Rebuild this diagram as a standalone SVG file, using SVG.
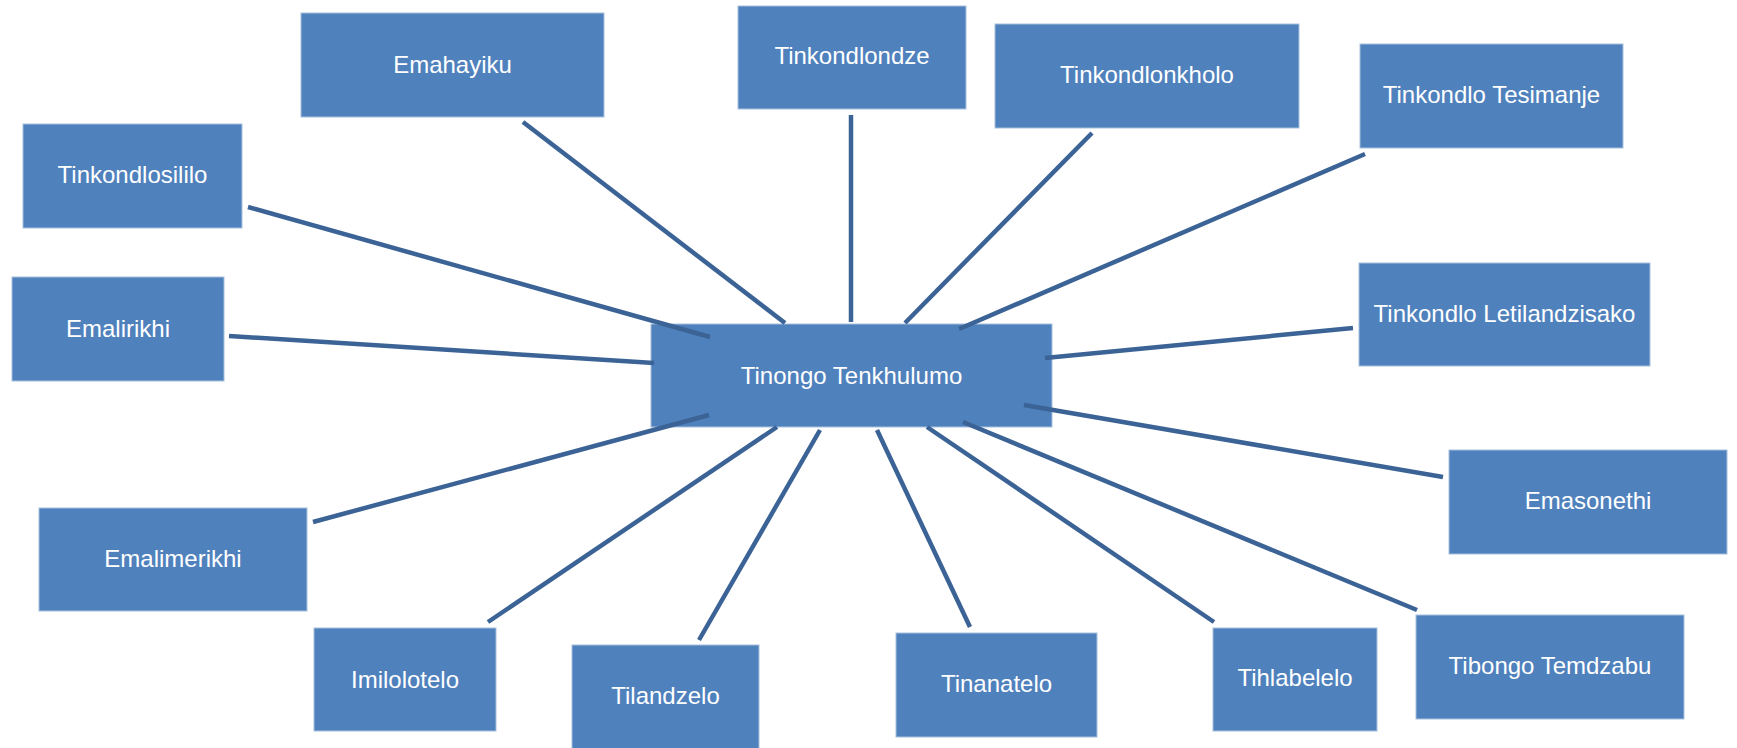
<svg xmlns="http://www.w3.org/2000/svg" width="1737" height="748" viewBox="0 0 1737 748">
<style>
.box{fill:#4f81bd;stroke:#a9c0de;stroke-width:1}
.lbl{font-family:"Liberation Sans",Arial,sans-serif;font-size:24px;fill:#ffffff;text-anchor:middle}
.edge{stroke:#3b6396;stroke-width:4.5;fill:none}
</style>
<rect width="1737" height="748" fill="#ffffff"/>
<g id="center"><rect class="box" x="651" y="324" width="401" height="103"/><text class="lbl" x="851.5" y="384">Tinongo Tenkhulumo</text></g>
<g id="emahayiku"><rect class="box" x="301" y="13" width="303" height="104"/><text class="lbl" x="452.5" y="73">Emahayiku</text></g>
<g id="tinkondlosililo"><rect class="box" x="23" y="124" width="219" height="104"/><text class="lbl" x="132.5" y="183">Tinkondlosililo</text></g>
<g id="emalirikhi"><rect class="box" x="12" y="277" width="212" height="104"/><text class="lbl" x="118" y="337">Emalirikhi</text></g>
<g id="tinkondlondze"><rect class="box" x="738" y="6" width="228" height="103"/><text class="lbl" x="852" y="64">Tinkondlondze</text></g>
<g id="tinkondlonkholo"><rect class="box" x="995" y="24" width="304" height="104"/><text class="lbl" x="1147" y="83">Tinkondlonkholo</text></g>
<g id="tesimanje"><rect class="box" x="1360" y="44" width="263" height="104"/><text class="lbl" x="1491.5" y="103">Tinkondlo Tesimanje</text></g>
<g id="letilandzisako"><rect class="box" x="1359" y="263" width="291" height="103"/><text class="lbl" x="1504.5" y="322">Tinkondlo Letilandzisako</text></g>
<g id="emasonethi"><rect class="box" x="1449" y="450" width="278" height="104"/><text class="lbl" x="1588" y="509">Emasonethi</text></g>
<g id="tibongo"><rect class="box" x="1416" y="615" width="268" height="104"/><text class="lbl" x="1550" y="674">Tibongo Temdzabu</text></g>
<g id="tihlabelelo"><rect class="box" x="1213" y="628" width="164" height="103"/><text class="lbl" x="1295" y="686">Tihlabelelo</text></g>
<g id="tinanatelo"><rect class="box" x="896" y="633" width="201" height="104"/><text class="lbl" x="996.5" y="692">Tinanatelo</text></g>
<g id="tilandzelo"><rect class="box" x="572" y="645" width="187" height="104"/><text class="lbl" x="665.5" y="704">Tilandzelo</text></g>
<g id="imilolotelo"><rect class="box" x="314" y="628" width="182" height="103"/><text class="lbl" x="405" y="688">Imilolotelo</text></g>
<g id="emalimerikhi"><rect class="box" x="39" y="508" width="268" height="103"/><text class="lbl" x="173" y="567">Emalimerikhi</text></g>
<g id="connectors">
<line class="edge" x1="523" y1="122" x2="785" y2="323"/>
<line class="edge" x1="248" y1="207" x2="710" y2="337"/>
<line class="edge" x1="229" y1="336" x2="654" y2="363"/>
<line class="edge" x1="851" y1="115" x2="851" y2="322"/>
<line class="edge" x1="1092" y1="133" x2="905" y2="323"/>
<line class="edge" x1="1365" y1="154" x2="959" y2="329"/>
<line class="edge" x1="1353" y1="328" x2="1045" y2="358"/>
<line class="edge" x1="313" y1="522" x2="709" y2="415"/>
<line class="edge" x1="488" y1="622" x2="777" y2="427"/>
<line class="edge" x1="699" y1="640" x2="820" y2="430"/>
<line class="edge" x1="1024" y1="405" x2="1443" y2="477"/>
<line class="edge" x1="877" y1="430" x2="970" y2="627"/>
<line class="edge" x1="927" y1="427" x2="1214" y2="622"/>
<line class="edge" x1="963" y1="422" x2="1417" y2="610"/>
</g>
</svg>
